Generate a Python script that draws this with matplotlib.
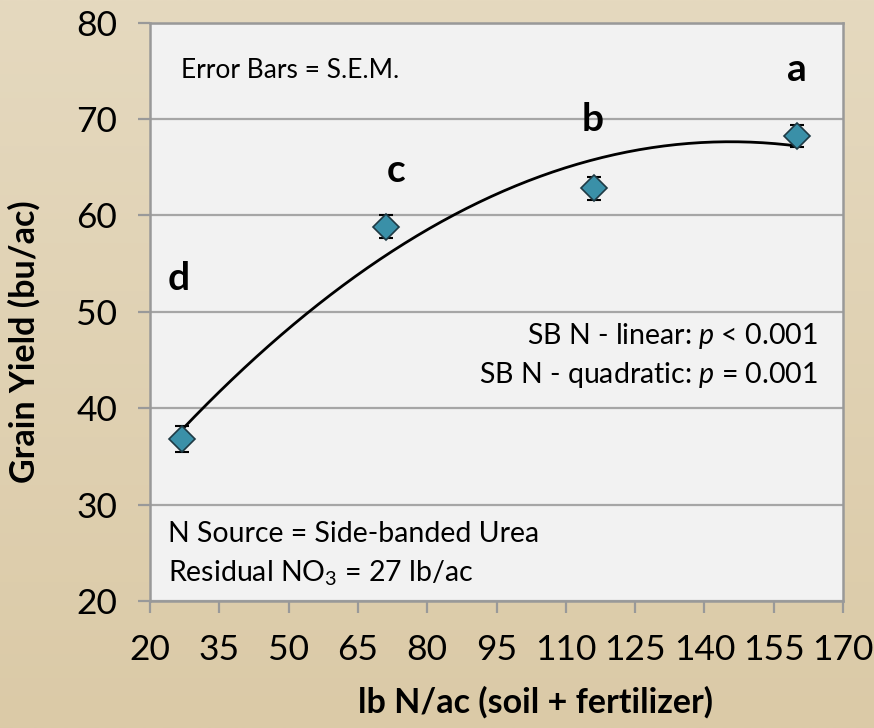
import numpy as np
import matplotlib
matplotlib.use("Agg")
import matplotlib.pyplot as plt
from matplotlib.colors import LinearSegmentedColormap

plt.rcParams['font.family'] = ['Lato', 'DejaVu Sans']
plt.rcParams['mathtext.fontset'] = 'custom'
plt.rcParams['mathtext.rm'] = 'Lato'
plt.rcParams['mathtext.it'] = 'Lato:italic'

# Nitrogen rate (soil + fertilizer) and mean grain yield
n_rate = [27, 71, 116, 160]
yield_mean = [36.8, 58.8, 62.8, 68.2]
yield_sem = [1.3, 1.2, 1.2, 1.15]
letters = ['d', 'c', 'b', 'a']

x_ticks = [20, 35, 50, 65, 80, 95, 110, 125, 140, 155, 170]
y_ticks = [20, 30, 40, 50, 60, 70, 80]

fig = plt.figure(figsize=(8.74, 7.28), dpi=100)

# beige gradient backdrop
bg = fig.add_axes([0, 0, 1, 1], zorder=-10)
grad = np.linspace(0, 1, 256).reshape(-1, 1)
cmap = LinearSegmentedColormap.from_list('beige', ['#E5D9BF', '#DBCAA7'])
bg.imshow(grad, aspect='auto', cmap=cmap, extent=[0, 1, 0, 1], origin='upper')
bg.set_axis_off()

ax = fig.add_axes([150/874, 1-601/728, 693/874, 578.5/728])
ax.set_facecolor('#F2F2F2')

grid_c = '#A6A6A6'
ax.set_xlim(20, 170)
ax.set_ylim(20, 80)
ax.set_xticks(x_ticks)
ax.set_yticks(y_ticks)
ax.yaxis.grid(True, color=grid_c, lw=1.6)
ax.set_axisbelow(True)
for s in ax.spines.values():
    s.set_color('#999999')
    s.set_linewidth(1.8)
ax.tick_params(axis='both', direction='out', length=8.5, width=1.6,
               color='#999999', labelsize=25.5, labelcolor='black')
ax.tick_params(axis='x', pad=15)
ax.tick_params(axis='y', pad=15)

# quadratic trend
coef = np.polyfit(n_rate, yield_mean, 2)
xs = np.linspace(min(n_rate), max(n_rate), 200)
ax.plot(xs, np.polyval(coef, xs), color='black', lw=2.0, zorder=3)

ax.errorbar(n_rate, yield_mean, yerr=yield_sem, fmt='none', ecolor='black',
            elinewidth=1.3, capsize=5, capthick=1.5, zorder=4)
ax.plot(n_rate, yield_mean, linestyle='none', marker='D', ms=13,
        mfc='#3A90A8', mec='#1F3A44', mew=1.2, zorder=5)

# significance letters
letter_pos = [(26.3, 53.4), (73.2, 64.6), (115.7, 69.9), (160, 75.1)]
for (lx, ly), lt in zip(letter_pos, letters):
    ax.text(lx, ly, lt, ha='center', va='center', fontsize=28,
            fontweight='bold', color='black')

fig.text(181/874, 1-70/728, 'Error Bars = S.E.M.', fontsize=19,
         ha='left', va='center')
fig.text(818/874, 1-336/728, r'SB N - linear: $\mathit{p}$ < 0.001',
         fontsize=20.5, ha='right', va='center')
fig.text(818/874, 1-375/728, r'SB N - quadratic: $\mathit{p}$ = 0.001',
         fontsize=20.5, ha='right', va='center')
fig.text(168/874, 1-534/728, 'N Source = Side-banded Urea',
         fontsize=20.5, ha='left', va='center')
fig.text(168/874, 1-573/728, r'Residual NO$_\mathrm{3}$ = 27 lb/ac',
         fontsize=20.5, ha='left', va='center')

fig.text(535/874, 1-702/728, 'lb N/ac (soil + fertilizer)', fontsize=24.5,
         fontweight='bold', ha='center', va='center')
fig.text(24/874, 1-342/728, 'Grain Yield (bu/ac)', fontsize=24.5,
         fontweight='bold', ha='center', va='center', rotation=90)

fig.savefig('out.png', dpi=100)
